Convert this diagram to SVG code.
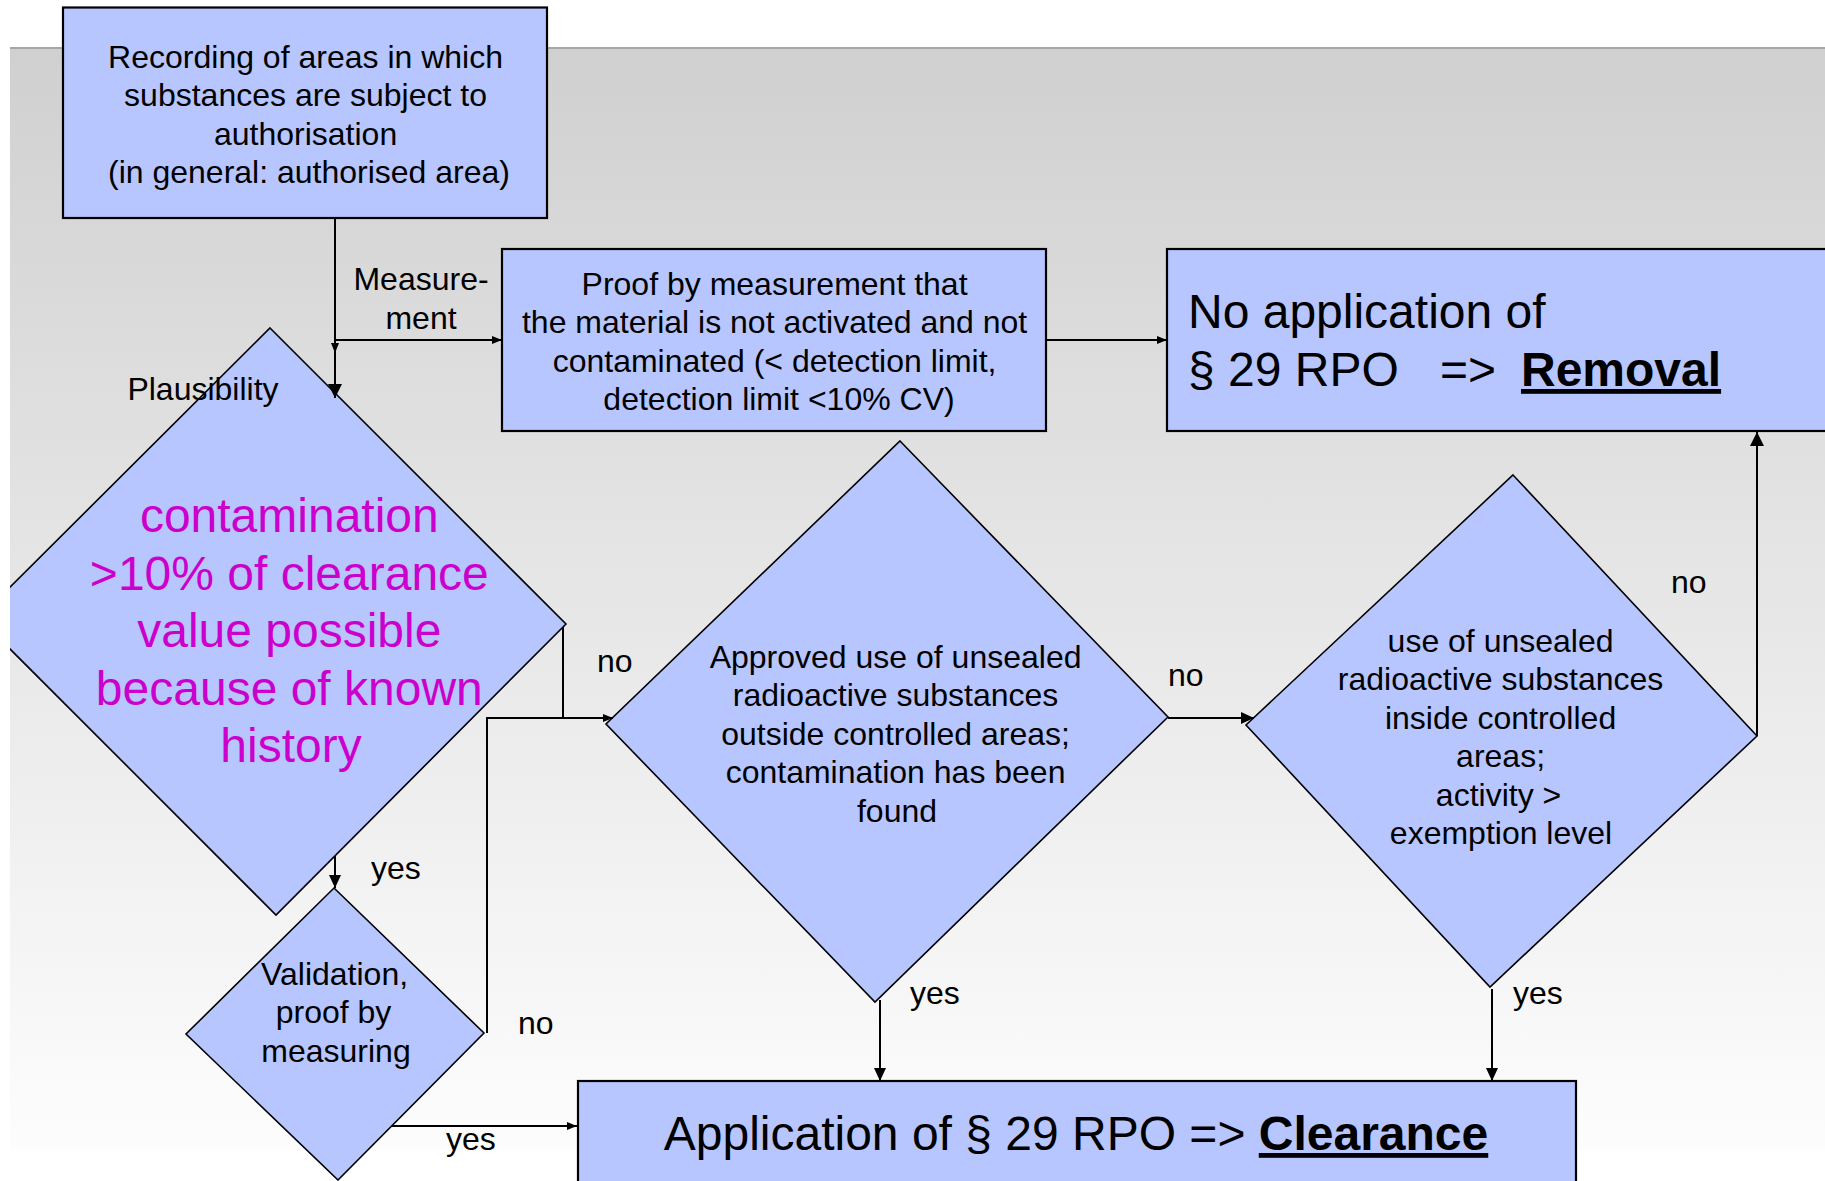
<svg xmlns="http://www.w3.org/2000/svg" width="1825" height="1181" viewBox="0 0 1825 1181">
  <defs>
    <linearGradient id="slideBg" x1="0" y1="0" x2="0" y2="1">
      <stop offset="0" stop-color="#d0d0d0"/>
      <stop offset="1" stop-color="#fdfdfd"/>
    </linearGradient>
    <clipPath id="slideClip">
      <rect x="10" y="0" width="1815" height="1181"/>
    </clipPath>
    <marker id="arrowL" markerUnits="userSpaceOnUse" markerWidth="16" markerHeight="16" refX="14" refY="7" orient="auto">
      <path d="M0,0 L14,7 L0,14 z" fill="#000"/>
    </marker>
    <marker id="arrowM" markerUnits="userSpaceOnUse" markerWidth="16" markerHeight="14" refX="13" refY="6" orient="auto">
      <path d="M0,0 L13,6 L0,12 z" fill="#000"/>
    </marker>
    <marker id="arrowS" markerUnits="userSpaceOnUse" markerWidth="12" markerHeight="10" refX="10" refY="4" orient="auto">
      <path d="M0,0 L10,4 L0,8 z" fill="#000"/>
    </marker>
    <style>
      .box { fill: #b7c6ff; stroke: #000; stroke-width: 2.2; }
      .dia { fill: #b7c6ff; stroke: #000; stroke-width: 1.6; }
      .txt { font-family: "Liberation Sans", Arial, sans-serif; font-size: 32px; fill: #000; }
      .mid { text-anchor: middle; }
      .big { font-size: 48px; }
      .hot { fill: #cc00cc; }
      .bold { font-weight: bold; text-decoration: underline; }
      .wire { fill: none; stroke: #000; stroke-width: 2; }
    </style>
  </defs>

  <!-- page background -->
  <rect x="0" y="0" width="1825" height="1181" fill="#ffffff"/>
  <rect x="10" y="48" width="1815" height="1103" fill="url(#slideBg)"/>
  <line x1="10" y1="48" x2="1825" y2="48" stroke="#a6a6a6" stroke-width="2"/>

  <!-- nodes -->
  <g id="node-recording">
    <rect class="box" x="63" y="7.5" width="484" height="210.5"/>
    <text class="txt mid" x="310">
      <tspan x="310" y="68">Recording of areas in which</tspan>
      <tspan x="310" y="106.4">substances are subject to</tspan>
      <tspan x="310" y="144.8">authorisation</tspan>
      <tspan x="309" y="183.2">(in general: authorised area)</tspan>
    </text>
  </g>

  <g id="node-proof">
    <rect class="box" x="502" y="249" width="544" height="182"/>
    <text class="txt mid" x="779">
      <tspan x="779" y="295">Proof by measurement that</tspan>
      <tspan x="779" y="333.4">the material is not activated and not</tspan>
      <tspan x="779" y="371.8">contaminated (&lt; detection limit,</tspan>
      <tspan x="779" y="410.2">detection limit &lt;10% CV)</tspan>
    </text>
  </g>

  <g id="node-removal">
    <rect class="box" x="1167" y="249" width="680" height="182"/>
    <text class="txt big" x="1188" y="328">No application of</text>
    <text class="txt big" y="386"><tspan x="1188">§ 29 RPO</tspan><tspan x="1440">=&gt;</tspan><tspan x="1521" class="bold">Removal</tspan></text>
  </g>

  <g id="node-plausibility">
    <polygon class="dia" clip-path="url(#slideClip)" points="270,328 566,624 276,915 -21,618"/>
    <text class="txt big hot mid" x="296">
      <tspan x="296" y="532">contamination</tspan>
      <tspan x="296" y="590">&gt;10% of clearance</tspan>
      <tspan x="296" y="647">value possible</tspan>
      <tspan x="296" y="705">because of known</tspan>
      <tspan x="291" y="762">history</tspan>
    </text>
  </g>

  <g id="node-approved">
    <polygon class="dia" points="900,441 1168,717 875,1002 606,724"/>
    <text class="txt mid" x="900">
      <tspan x="900" y="668">Approved use of unsealed</tspan>
      <tspan x="900" y="706.4">radioactive substances</tspan>
      <tspan x="900" y="744.8">outside controlled areas;</tspan>
      <tspan x="900" y="783.2">contamination has been</tspan>
      <tspan x="897" y="821.6">found</tspan>
    </text>
  </g>

  <g id="node-inside">
    <polygon class="dia" points="1513,475 1757,736 1490,987 1246,725"/>
    <text class="txt mid" x="1505">
      <tspan x="1505" y="652">use of unsealed</tspan>
      <tspan x="1505" y="690.4">radioactive substances</tspan>
      <tspan x="1505" y="728.8">inside controlled</tspan>
      <tspan x="1505" y="767.2">areas;</tspan>
      <tspan x="1503" y="805.6">activity &gt;</tspan>
      <tspan x="1501" y="844">exemption level</tspan>
    </text>
  </g>

  <g id="node-validation">
    <polygon class="dia" points="334,888 484,1033 338,1180 186,1034"/>
    <text class="txt mid" x="339">
      <tspan x="339" y="985">Validation,</tspan>
      <tspan x="338" y="1023.4">proof by</tspan>
      <tspan x="336" y="1061.8">measuring</tspan>
    </text>
  </g>

  <g id="node-clearance">
    <rect class="box" x="578" y="1081" width="998" height="130"/>
    <text class="txt big mid" x="1076" y="1150">Application of § 29 RPO =&gt; <tspan class="bold">Clearance</tspan></text>
  </g>

  <!-- connectors -->
  <g id="connectors">
    <path class="wire" d="M335,218 V398" marker-end="url(#arrowL)"/>
    <path class="wire" d="M335,340 V353" marker-end="url(#arrowS)"/>
    <path class="wire" d="M335,340 H502" marker-end="url(#arrowS)"/>
    <path class="wire" d="M1046,340 H1167" marker-end="url(#arrowS)"/>
    <path class="wire" d="M563,627 V718"/>
    <path class="wire" d="M487,1033 V718 H613" marker-end="url(#arrowS)"/>
    <path class="wire" d="M1168,718 H1254" marker-end="url(#arrowM)"/>
    <path class="wire" d="M1757,736 V432" marker-end="url(#arrowL)"/>
    <path class="wire" d="M880,1000 V1081" marker-end="url(#arrowM)"/>
    <path class="wire" d="M1492,989 V1081" marker-end="url(#arrowM)"/>
    <path class="wire" d="M335,856 V888" marker-end="url(#arrowM)"/>
    <path class="wire" d="M392,1126 H577" marker-end="url(#arrowS)"/>

    <text class="txt mid" x="421" y="290">Measure-</text>
    <text class="txt mid" x="421" y="328.6">ment</text>
    <text class="txt mid" x="203" y="400">Plausibility</text>
    <text class="txt" x="597" y="672">no</text>
    <text class="txt" x="1168" y="686">no</text>
    <text class="txt" x="1671" y="593">no</text>
    <text class="txt" x="518" y="1034">no</text>
    <text class="txt" x="371" y="879">yes</text>
    <text class="txt" x="446" y="1150">yes</text>
    <text class="txt" x="910" y="1004">yes</text>
    <text class="txt" x="1513" y="1004">yes</text>
  </g>
</svg>
